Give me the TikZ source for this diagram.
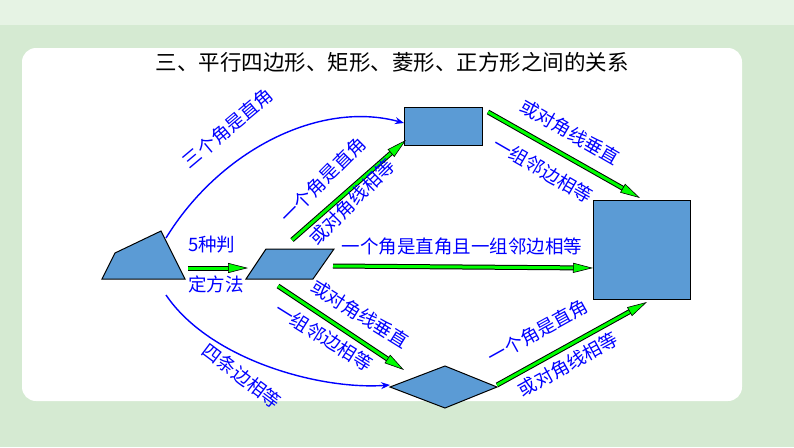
\documentclass[tikz,border=0pt]{standalone}
\usepackage{fontspec}
\setmainfont{Noto Sans CJK SC}
\usetikzlibrary{arrows.meta}
\definecolor{bgg}{HTML}{D5EAD2}
\definecolor{shp}{HTML}{5B9BD5}
\definecolor{gr}{HTML}{00FF00}
\tikzset{
  figbox/.style={draw=black,line width=1pt,fill=shp},
  lab/.style={text=blue,font=\fontsize{18.5}{18.5}\selectfont,inner sep=0pt},
  bcurve/.style={draw=blue,line width=1.4pt,-{Stealth[length=9pt,width=7pt]}},
  gout/.style={draw=black,line width=5pt,shorten >=16pt},
  gin/.style={draw=gr,line width=3pt,-{Triangle[length=20pt,width=10pt,fill=gr,line width=0.6pt,color=black,fill=gr]}}
}
\newcommand\garr[2]{\draw[gout] (#1) -- (#2); \draw[gin] (#1) -- (#2);}
\begin{document}
\begin{tikzpicture}[x=1pt,y=-1pt]
\useasboundingbox (0,0) rectangle (794,447);
\fill[bgg] (0,0) rectangle (794,447);
\fill[white!40!bgg] (0,0) rectangle (794,25);
\fill[white,rounded corners=14pt] (22,48) rectangle (742,401);
\node[font=\fontsize{21.5}{21.5}\selectfont] (title) at (392,62) {三、平行四边形、矩形、菱形、正方形之间的关系};
% shapes
\draw[figbox] (102,279) -- (115,253) -- (161,231) -- (185,279) -- cycle;
\coordinate (q1) at (166,238); \coordinate (q2) at (166,295); \coordinate (q3) at (188,268);
\draw[figbox] (246,279) -- (266,249) -- (334,249) -- (313,279) -- cycle;
\coordinate (p0) at (248,268);
\draw[figbox] (404,107) rectangle (482,145);
\coordinate (r1) at (404,123); \coordinate (r2) at (406,140);
\draw[figbox] (593,200) rectangle (690,299);
\draw[figbox] (390,387) -- (445,366) -- (497,387) -- (445,408) -- cycle;
\coordinate (h1) at (390,385);
% blue curves
\draw[bcurve] (q1) .. controls (220,150) and (320,100) .. (r1);
\draw[bcurve] (q2) .. controls (210,360) and (320,390) .. (h1);
\node[lab,rotate=40] (t1) at (228,128) {三个角是直角};
\node[lab,rotate=-37] (t2) at (242,376) {四条边相等};
% green arrows
\coordinate (a1) at (292,240); \garr{a1}{r2}
\node[lab,rotate=45] at (323,180) {一个角是直角};
\node[lab,rotate=45] at (352,202) {或对角线相等};
\coordinate (a2) at (488,112); \coordinate (b2) at (640,198); \garr{a2}{b2}
\node[lab,rotate=-30] at (570,132) {或对角线垂直};
\node[lab,rotate=-30] at (543,170) {一组邻边相等};
\coordinate (a3) at (333,266); \coordinate (b3) at (593,268); \garr{a3}{b3}
\node[lab] at (462,246) {一个角是直角且一组邻边相等};
\coordinate (a4) at (278,286); \coordinate (b4) at (404,370); \garr{a4}{b4}
\node[lab,rotate=-32] at (360,314) {或对角线垂直};
\node[lab,rotate=-32] at (324,337) {一组邻边相等};
\coordinate (a5) at (497,385); \coordinate (b5) at (647,302); \garr{a5}{b5}
\node[lab,rotate=29] at (538,331) {一个角是直角};
\node[lab,rotate=29] at (568,364) {或对角线相等};
\garr{q3}{p0}
\node[lab,anchor=west] at (188,245) {5种判};
\node[lab,anchor=west] at (188,284) {定方法};
\end{tikzpicture}
\end{document}
